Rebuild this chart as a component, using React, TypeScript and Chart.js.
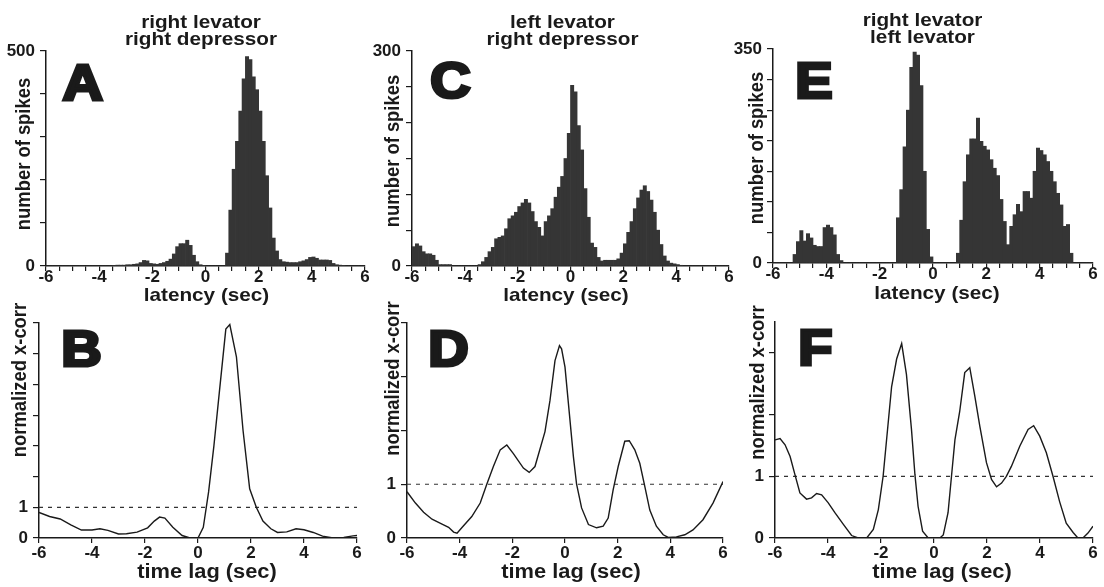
import React, { useEffect, useRef } from 'react';
import { Chart, registerables } from 'chart.js';

Chart.register(...registerables);

const W = 1104;
const H = 587;

// ---------------- data ----------------
// histogram bins: 0.125 s wide, from -6 s to +6 s (96 bins)
const BIN_START = -6;
const BIN_WIDTH = 0.125;

// A: right levator / right depressor (number of spikes per bin)
const SPIKES_A = [
  0, 0, 0, 0, 0, 0, 0, 0, 0, 0, 0, 0, 0, 0, 0, 0, 0, 0, 0, 0,
  1, 2, 2, 2, 3, 3, 4, 5, 8, 13, 12, 6, 5, 4, 6, 8, 11, 16, 28, 45,
  52, 52, 60, 48, 25, 10, 3, 1,
  0, 0, 0, 0, 0, 0,
  30, 130, 225, 290, 360, 435, 487, 480, 440, 410, 360, 290, 210, 135, 65, 35,
  15, 10, 9, 8, 8, 8, 10, 12, 15, 20, 21, 18, 14, 14, 14, 13, 6, 3, 2, 1,
  0, 0, 0, 0, 0, 0,
];

// C: left levator / right depressor
const SPIKES_C = [
  27, 31, 28, 20, 17, 17, 15, 8, 2, 2, 2, 2,
  0, 0, 0, 0, 0, 0, 0, 0,
  2, 6, 12, 20, 26, 38, 40, 42, 52, 66, 70, 75, 83, 88, 93, 88, 76, 62, 54, 42,
  62, 70, 80, 96, 110, 125, 150, 185, 252, 243, 196, 162, 108, 68, 32, 26, 12, 7, 8, 8, 8, 8,
  10, 18, 31, 47, 62, 80, 95, 106, 112, 104, 92, 75, 50, 30, 14, 7, 4, 3, 2, 1,
  0, 0, 0, 0, 0, 0, 0, 0, 0, 0, 0, 0, 0, 0,
];

// E: right levator / left levator
const SPIKES_E = [
  0, 0, 0, 0, 0, 0,
  14, 35, 53, 36, 48, 41, 29, 27, 27, 58, 62, 58, 46, 14, 4,
  0, 0, 0, 0, 0, 0, 0, 0, 0, 0, 0, 0, 0, 0, 0, 0,
  74, 120, 190, 250, 320, 345, 340, 290, 150, 55, 10,
  0, 0, 0, 0, 0, 0, 0,
  16, 70, 133, 177, 203, 203, 237, 199, 191, 185, 169, 155, 143, 104, 68, 30, 60, 79, 96, 84,
  117, 117, 106, 150, 188, 184, 177, 166, 150, 133, 114, 95, 60, 63, 16,
  0, 0, 0, 0, 0, 0,
];

// B: normalized cross-correlation (right levator / right depressor)
const B_LAG = [
  -6, -5.6, -5.2, -4.8, -4.4, -4.0, -3.7, -3.4, -3.0, -2.7, -2.3, -1.9, -1.65, -1.45, -1.25,
  -0.95, -0.6, -0.3, 0.0, 0.2, 0.4, 0.6, 0.8, 1.05, 1.2, 1.45, 1.7, 1.95, 2.2, 2.45, 2.75,
  3.0, 3.35, 3.7, 4.0, 4.35, 4.7, 5.1, 5.5, 5.85, 6.0,
];
const B_XCORR = [
  0.83, 0.70, 0.62, 0.43, 0.26, 0.26, 0.30, 0.25, 0.13, 0.14, 0.19, 0.33, 0.55, 0.68, 0.65,
  0.35, 0.08, 0.0, 0.0, 0.35, 1.5, 3.0, 4.7, 6.8, 6.95, 5.9, 3.5, 1.6, 1.0, 0.55, 0.3,
  0.18, 0.2, 0.3, 0.27, 0.18, 0.06, 0.0, 0.02, 0.07, 0.08,
];

// D: normalized cross-correlation (left levator / right depressor)
const D_LAG = [
  -6, -5.68, -5.37, -5.05, -4.67, -4.42, -4.23, -4.1, -3.92, -3.54, -3.22, -2.97, -2.72, -2.46,
  -2.21, -1.96, -1.58, -1.36, -1.14, -0.76, -0.57, -0.38, -0.21, -0.13, 0.0, 0.13, 0.32, 0.44,
  0.63, 0.89, 1.2, 1.45, 1.64, 1.83, 2.02, 2.27, 2.44, 2.65, 2.84, 3.03, 3.22, 3.47, 3.73,
  3.92, 4.23, 4.55, 4.86, 5.24, 5.62, 6.0,
];
const D_XCORR = [
  0.86, 0.65, 0.48, 0.35, 0.26, 0.20, 0.11, 0.09, 0.19, 0.40, 0.65, 1.0, 1.33, 1.64,
  1.73, 1.57, 1.30, 1.22, 1.33, 1.98, 2.56, 3.30, 3.58, 3.52, 3.18, 2.5, 1.51, 1.0,
  0.56, 0.25, 0.19, 0.22, 0.37, 0.9, 1.33, 1.80, 1.81, 1.64, 1.39, 0.96, 0.52, 0.22, 0.06,
  0.01, 0.02, 0.06, 0.15, 0.34, 0.65, 1.05,
];

// F: normalized cross-correlation (right levator / left levator)
const F_LAG = [
  -6, -5.81, -5.62, -5.43, -5.25, -5.06, -4.81, -4.62, -4.43, -4.24, -3.99, -3.74, -3.42, -3.11,
  -2.86, -2.54, -2.29, -2.1, -1.92, -1.6, -1.41, -1.22, -1.04, -0.85, -0.72, -0.6, -0.43, -0.22,
  0.22, 0.35, 0.53, 0.66, 0.79, 0.97, 1.16, 1.35, 1.54, 1.73, 1.98, 2.17, 2.36, 2.55, 2.73,
  2.92, 3.24, 3.55, 3.76, 3.99, 4.24, 4.49, 4.74, 4.99, 5.25, 5.43, 5.62, 5.81, 6.0,
];
const F_XCORR = [
  1.59, 1.61, 1.51, 1.32, 1.03, 0.73, 0.63, 0.65, 0.72, 0.70, 0.57, 0.41, 0.22, 0.04,
  0, 0, 0.14, 0.46, 1.0, 2.45, 2.9, 3.15, 2.65, 1.76, 1.03, 0.51, 0.11, 0,
  0, 0.05, 0.41, 1.0, 1.59, 2.05, 2.68, 2.76, 2.3, 1.81, 1.22, 0.95, 0.83, 0.89, 1.0,
  1.16, 1.49, 1.76, 1.82, 1.65, 1.38, 1.0, 0.59, 0.24, 0.09, 0, 0, 0.08, 0.19,
];

const CHANCE_LEVEL = 1;
const LAG_MIN = -6;
const LAG_MAX = 6;

// ---------------- style ----------------
const FONT = '"Liberation Sans", Arial, Helvetica, sans-serif';
const INK = '#1a1a1a';
const BAR = '#353535';
const SX = 1.12; // horizontal stretch of the printed figure text

type Area = { left: number; top: number; right: number; bottom: number };
type PanelSpec = {
  id: string;
  kind: 'hist' | 'xcorr';
  area: Area;
  yMax: number;
  yStep: number;
  yLabeled: number[];
  xStep: number;
  letter: { text: string; x: number; y: number };
  title?: { lines: string[]; x: number; y: number[] };
  yTitle: { text: string; x: number; y: number };
  xTitle: { text: string; x: number; y: number; size: number };
  values?: number[];
  lag?: number[];
  xcorr?: number[];
};

const PANELS: PanelSpec[] = [
  {
    id: 'A', kind: 'hist', area: { left: 46, top: 51, right: 365, bottom: 266 },
    yMax: 500, yStep: 100, yLabeled: [0, 500], xStep: 0.5,
    letter: { text: 'A', x: 62, y: 102 },
    title: { lines: ['right levator', 'right depressor'], x: 201, y: [27.5, 45] },
    yTitle: { text: 'number of spikes', x: 24, y: 154 },
    xTitle: { text: 'latency (sec)', x: 206.5, y: 301, size: 18.5 },
    values: SPIKES_A,
  },
  {
    id: 'C', kind: 'hist', area: { left: 412, top: 51, right: 729, bottom: 266 },
    yMax: 300, yStep: 50, yLabeled: [0, 300], xStep: 0.5,
    letter: { text: 'C', x: 431, y: 100 },
    title: { lines: ['left levator', 'right depressor'], x: 562.5, y: [27.5, 45] },
    yTitle: { text: 'number of spikes', x: 393, y: 151 },
    xTitle: { text: 'latency (sec)', x: 566, y: 301, size: 18.5 },
    values: SPIKES_C,
  },
  {
    id: 'E', kind: 'hist', area: { left: 773, top: 49, right: 1093, bottom: 263 },
    yMax: 350, yStep: 50, yLabeled: [0, 350], xStep: 0.5,
    letter: { text: 'E', x: 797, y: 100 },
    title: { lines: ['right levator', 'left levator'], x: 922.5, y: [25.5, 43] },
    yTitle: { text: 'number of spikes', x: 757, y: 148 },
    xTitle: { text: 'latency (sec)', x: 937, y: 298.5, size: 18.5 },
    values: SPIKES_E,
  },
  {
    id: 'B', kind: 'xcorr', area: { left: 39, top: 323, right: 357, bottom: 538 },
    yMax: 7, yStep: 1, yLabeled: [0, 1], xStep: 2,
    letter: { text: 'B', x: 63, y: 368 },
    yTitle: { text: 'normalized x-corr', x: 20, y: 380 },
    xTitle: { text: 'time lag (sec)', x: 207, y: 578, size: 19.5 },
    lag: B_LAG, xcorr: B_XCORR,
  },
  {
    id: 'D', kind: 'xcorr', area: { left: 407, top: 323, right: 723, bottom: 538 },
    yMax: 4, yStep: 1, yLabeled: [0, 1], xStep: 2,
    letter: { text: 'D', x: 430, y: 368 },
    yTitle: { text: 'normalized x-corr', x: 393, y: 378.5 },
    xTitle: { text: 'time lag (sec)', x: 571, y: 578, size: 19.5 },
    lag: D_LAG, xcorr: D_XCORR,
  },
  {
    id: 'F', kind: 'xcorr', area: { left: 775, top: 322, right: 1093, bottom: 538 },
    yMax: 3.5, yStep: 1, yLabeled: [0, 1], xStep: 2,
    letter: { text: 'F', x: 800, y: 367 },
    yTitle: { text: 'normalized x-corr', x: 758.5, y: 382.5 },
    xTitle: { text: 'time lag (sec)', x: 942, y: 578, size: 19.5 },
    lag: F_LAG, xcorr: F_XCORR,
  },
];

// ---------------- drawing helpers ----------------
function drawStretched(
  ctx: CanvasRenderingContext2D, text: string, x: number, y: number, size: number,
  align: CanvasTextAlign, baseline: CanvasTextBaseline, vertical: boolean,
) {
  ctx.save();
  ctx.translate(x, y);
  ctx.scale(SX, 1);
  if (vertical) ctx.rotate(-Math.PI / 2);
  ctx.font = `bold ${size}px ${FONT}`;
  ctx.textAlign = align;
  ctx.textBaseline = baseline;
  ctx.fillStyle = INK;
  ctx.fillText(text, 0, 0);
  ctx.restore();
}

function drawLetter(ctx: CanvasRenderingContext2D, text: string, inkLeft: number, inkBottom: number) {
  const stroke = 3.2;
  ctx.save();
  ctx.translate(inkLeft + stroke / 2, inkBottom - stroke / 2);
  ctx.scale(SX, 1);
  ctx.font = `bold 50px ${FONT}`;
  ctx.textAlign = 'left';
  ctx.textBaseline = 'alphabetic';
  const m = ctx.measureText(text);
  const dx = m.actualBoundingBoxLeft;
  ctx.fillStyle = INK;
  ctx.strokeStyle = INK;
  ctx.lineWidth = stroke;
  ctx.lineJoin = 'miter';
  ctx.fillText(text, dx, 0);
  ctx.strokeText(text, dx, 0);
  ctx.restore();
}

function textPlugin(p: PanelSpec) {
  return {
    id: 'panelText' + p.id,
    afterDraw(chart: any) {
      const ctx: CanvasRenderingContext2D = chart.ctx;
      if (p.title) {
        p.title.lines.forEach((line, i) =>
          drawStretched(ctx, line, p.title!.x, p.title!.y[i], 18.5, 'center', 'alphabetic', false));
      }
      drawStretched(ctx, p.yTitle.text, p.yTitle.x, p.yTitle.y, 18.4, 'center', 'middle', true);
      drawStretched(ctx, p.xTitle.text, p.xTitle.x, p.xTitle.y, p.xTitle.size, 'center', 'alphabetic', false);
      drawLetter(ctx, p.letter.text, p.letter.x, p.letter.y);
    },
  };
}

function buildConfig(p: PanelSpec): any {
  const yAxisW = Math.min(p.area.left, 45);
  const xAxisH = 28;
  const isHist = p.kind === 'hist';

  const datasets: any[] = isHist
    ? [{
        data: p.values!.map((v, i) => ({ x: BIN_START + (i + 0.5) * BIN_WIDTH, y: v })),
        backgroundColor: BAR,
        borderWidth: 0,
        barPercentage: 1,
        categoryPercentage: 1,
      }]
    : [
        {
          data: p.lag!.map((x, i) => ({ x, y: p.xcorr![i] })),
          borderColor: INK,
          borderWidth: 1.4,
          pointRadius: 0,
          tension: 0,
          fill: false,
        },
        {
          data: [{ x: LAG_MIN, y: CHANCE_LEVEL }, { x: LAG_MAX, y: CHANCE_LEVEL }],
          borderColor: '#333',
          borderWidth: 1.2,
          borderDash: [4, 5],
          pointRadius: 0,
          fill: false,
        },
      ];

  const tickFont = { family: FONT, size: 17, weight: 'bold' as const, lineHeight: 0.7 };

  return {
    type: isHist ? 'bar' : 'line',
    data: { datasets },
    options: {
      responsive: false,
      animation: false,
      devicePixelRatio: 1,
      events: [],
      layout: {
        padding: {
          left: p.area.left - yAxisW,
          top: p.area.top,
          right: W - p.area.right,
          bottom: H - p.area.bottom - xAxisH,
        },
      },
      plugins: {
        legend: { display: false },
        tooltip: { enabled: false },
        title: { display: false },
      },
      scales: {
        x: {
          type: 'linear',
          min: LAG_MIN,
          max: LAG_MAX,
          offset: false,
          grid: {
            display: true, offset: false, drawOnChartArea: false, drawTicks: true,
            tickLength: 5, color: INK, lineWidth: 1.2,
          },
          border: { display: true, color: INK, width: 1.5 },
          ticks: {
            stepSize: p.xStep,
            autoSkip: false,
            maxRotation: 0,
            minRotation: 0,
            padding: isHist ? 0 : 4,
            color: INK,
            font: tickFont,
            callback: (v: number) => (Math.abs(v % 2) < 1e-9 ? String(v) : ''),
          },
          afterFit: (s: any) => {
            s.height = xAxisH;
            s.paddingLeft = 0; s.paddingRight = 0; s.paddingTop = 0; s.paddingBottom = 0;
          },
        },
        y: {
          type: 'linear',
          min: 0,
          max: p.yMax,
          grid: {
            display: true, drawOnChartArea: false, drawTicks: true,
            tickLength: 6, color: INK, lineWidth: 1.2,
          },
          border: { display: true, color: INK, width: 1.5 },
          ticks: {
            stepSize: p.yStep,
            autoSkip: false,
            padding: 5,
            color: INK,
            font: { ...tickFont, lineHeight: 1 },
            callback: (v: number) => (p.yLabeled.includes(v) ? String(v) : ''),
          },
          afterBuildTicks: (s: any) => {
            s.ticks = s.ticks.filter((t: any) => Math.abs(t.value / p.yStep - Math.round(t.value / p.yStep)) < 1e-9);
          },
          afterFit: (s: any) => {
            s.width = yAxisW;
            s.paddingLeft = 0; s.paddingRight = 0; s.paddingTop = 0; s.paddingBottom = 0;
          },
        },
      },
    },
    plugins: [textPlugin(p)],
  };
}

function PanelCanvas({ spec }: { spec: PanelSpec }) {
  const ref = useRef<HTMLCanvasElement>(null);
  useEffect(() => {
    if (!ref.current) return;
    const chart = new Chart(ref.current, buildConfig(spec));
    return () => chart.destroy();
  }, [spec]);
  return (
    <canvas
      ref={ref}
      width={W}
      height={H}
      style={{ position: 'absolute', left: 0, top: 0, width: W, height: H }}
    />
  );
}

export default function App() {
  return (
    <div
      style={{
        position: 'absolute', left: 0, top: 0, width: W, height: H,
        background: '#ffffff', overflow: 'hidden',
      }}
    >
      {PANELS.map((p) => (
        <PanelCanvas key={p.id} spec={p} />
      ))}
    </div>
  );
}
